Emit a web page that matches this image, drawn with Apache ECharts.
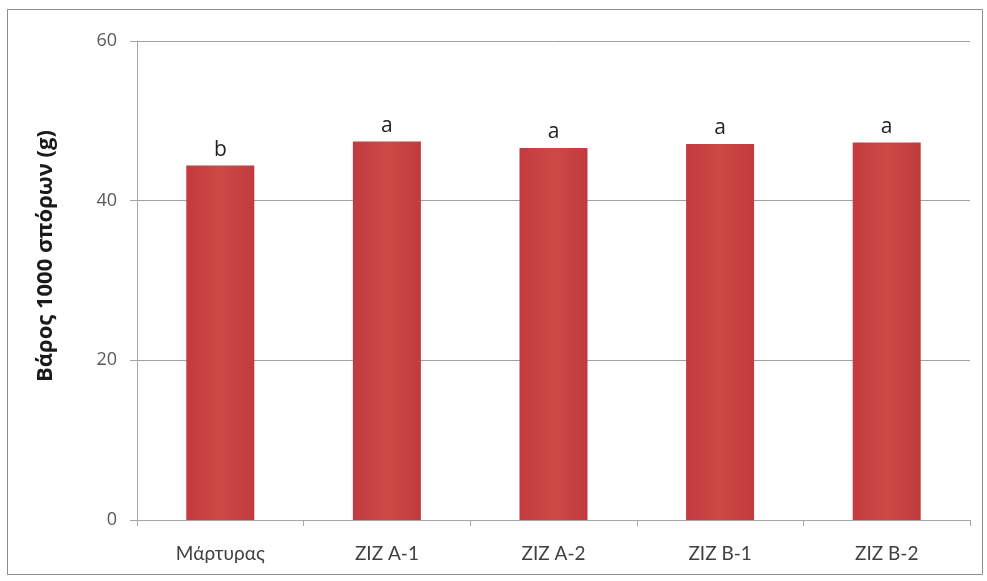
<!DOCTYPE html>
<html><head><meta charset="utf-8">
<script src="https://cdn.jsdelivr.net/npm/echarts@6/dist/echarts.min.js"></script>
<style>html,body{margin:0;padding:0;background:#fff}#c{width:987px;height:581px}</style>
</head><body><div id="c"></div>
<script>
const categories = ['Μάρτυρας', 'ZIZ A-1', 'ZIZ A-2', 'ZIZ B-1', 'ZIZ B-2'];
const values = [44.4, 47.4, 46.6, 47.1, 47.3];
const letters = ['b', 'a', 'a', 'a', 'a'];
const yTitle = 'Βάρος 1000 σπόρων (g)';

const chart = echarts.init(document.getElementById('c'));
chart.setOption({
  animation: false,
  backgroundColor: '#fff',
  graphic: [
    {type: 'rect', shape: {x: 7.5, y: 9.5, width: 975, height: 565}, style: {fill: 'none', stroke: '#8c8c8c', lineWidth: 1}, z: -1},
    {type: 'text', x: 46, y: 256, rotation: Math.PI / 2,
     style: {text: yTitle, fontSize: 22, fontWeight: 'bold', fill: '#1a1a1a', fontFamily: 'Open Sans', align: 'center', verticalAlign: 'middle'}}
  ],
  grid: {left: 137, right: 17, top: 41, bottom: 61},
  xAxis: {
    type: 'category', data: categories,
    axisLine: {lineStyle: {color: '#a6a6a6'}},
    axisTick: {show: true, length: 6, lineStyle: {color: '#a6a6a6'}},
    axisLabel: {color: '#404040', fontSize: 19, fontFamily: 'Lato', margin: 24}
  },
  yAxis: {
    type: 'value', min: 0, max: 60, interval: 20,
    axisLine: {show: true, lineStyle: {color: '#a6a6a6'}},
    axisTick: {show: true, length: 7, lineStyle: {color: '#a6a6a6'}},
    axisLabel: {color: '#595959', fontSize: 18, fontFamily: 'Open Sans', margin: 20},
    splitLine: {lineStyle: {color: '#a0a0a0'}}
  },
  series: [{
    type: 'bar', data: values, barWidth: 68,
    itemStyle: {color: new echarts.graphic.LinearGradient(0, 0, 1, 0, [
      {offset: 0, color: '#c33a40'}, {offset: 0.5, color: '#cc4a45'}, {offset: 1, color: '#c23a3e'}])},
    label: {show: true, position: 'top', distance: 5, fontSize: 21, color: '#222', fontFamily: 'Open Sans',
      formatter: p => letters[p.dataIndex]}
  }]
});
</script></body></html>
